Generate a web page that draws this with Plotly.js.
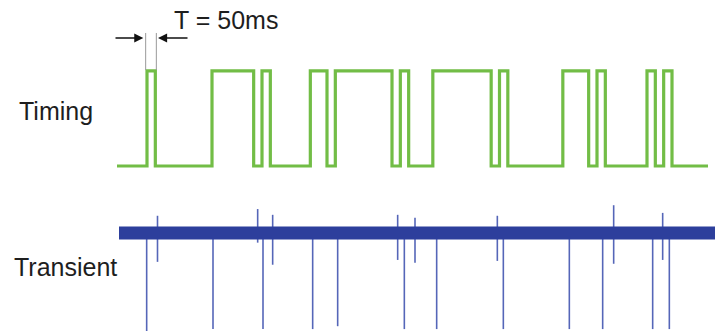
<!DOCTYPE html>
<html>
<head>
<meta charset="utf-8">
<script src="https://cdn.plot.ly/plotly-3.0.1.min.js"></script>
<style>html,body{margin:0;padding:0;background:#fff;}#chart{width:723px;height:331px;}</style>
</head>
<body>
<div id="chart"></div>
<script>
// ---- Timing signal (ms): transition instants, starts low, alternates rise/fall ----
var timingStart = -180;
var timingEnd = 3366;
var timingEdges = [0, 50, 390, 640, 690, 740, 980, 1080, 1130, 1470, 1520, 1570,
                   1715, 2065, 2115, 2165, 2495, 2650, 2700, 2750, 3000, 3050, 3100, 3150];

// ---- Transient signal baseline (ms, normalised amplitude) ----
var baseX = [-168, 58, 78, 138, 652, 672, 732, 742, 762, 822, 1096, 1116, 1176,
             1492, 1512, 1572, 1600, 1620, 1680, 2092, 2112, 2172, 2180, 2196, 2256,
             2680, 2700, 2760, 2794, 2814, 2874, 3082, 3102, 3162, 3180, 3198, 3258, 3408];
var baseY = [0, 0, 0.03, 0.008, 0.003, 0.03, 0.008, 0.008, 0.03, 0.008, 0.003, 0.03, 0.008,
             0.003, 0.03, 0.008, 0.008, 0.03, 0.008, 0.003, 0.03, 0.012, 0.012, 0.03, 0.008,
             0.003, 0.03, 0.008, 0.008, 0.03, 0.008, 0.003, 0.03, 0.008, 0.008, 0.03, 0.008, 0];

// ---- Transient spikes: position (ms), top and bottom (normalised) ----
var spikeX   = [-2, 63, 396, 664, 696, 754, 994, 1144, 1504, 1544, 1608, 1738,
                2102, 2138, 2534, 2734, 2800, 3034, 3094, 3134];
var spikeTop = [0.04, 0.18, 0.04, 0.25, 0.04, 0.19, 0.04, 0.04, 0.19, 0.04, 0.16, 0.04,
                0.18, 0.04, 0.04, 0.04, 0.29, 0.04, 0.21, 0.04];
var spikeBot = [-1.02, -0.30, -1.0, -0.1, -1.0, -0.33, -1.0, -0.97, -0.28, -1.0, -0.31, -1.0,
                -0.29, -1.0, -1.0, -1.0, -0.32, -1.0, -0.28, -1.0];

// ---- Labels ----
var rowLabels = ["Timing", "Transient"];
var periodLabel = "T = 50ms";
var periodStart = 0, periodEnd = 50;

// build timing step trace
var tx = [timingStart], ty = [0];
for (var i = 0; i < timingEdges.length; i++) {
  tx.push(timingEdges[i]);
  ty.push(i % 2 === 0 ? 1 : 0);
}
tx.push(timingEnd); ty.push(0);

// build spike trace
var sx = [], sy = [];
for (var j = 0; j < spikeX.length; j++) {
  sx.push(spikeX[j], spikeX[j], null);
  sy.push(spikeTop[j], spikeBot[j], null);
}

var traces = [
  {x: tx, y: ty, mode: 'lines', line: {shape: 'hv', color: '#72bd46', width: 3.2},
   xaxis: 'x', yaxis: 'y', hoverinfo: 'skip'},
  {x: sx, y: sy, mode: 'lines', line: {color: '#5566b8', width: 1.6},
   xaxis: 'x', yaxis: 'y2', hoverinfo: 'skip', connectgaps: false},
  {x: baseX, y: baseY, mode: 'lines', line: {color: '#2d3f9c', width: 13},
   xaxis: 'x', yaxis: 'y2', hoverinfo: 'skip'}
];

var fontTxt = {family: 'Liberation Sans, Arial, sans-serif', size: 25, color: '#1e1e1e'};
var arrowY = 1.347;

var layout = {
  width: 723, height: 331,
  margin: {l: 0, r: 0, t: 0, b: 0},
  paper_bgcolor: '#ffffff', plot_bgcolor: '#ffffff',
  showlegend: false,
  xaxis: {range: [-882, 3456], visible: false, showgrid: false, zeroline: false},
  yaxis: {range: [-1.737, 1.747], visible: false, showgrid: false, zeroline: false, domain: [0, 1]},
  yaxis2: {range: [-1.02, 2.427], visible: false, showgrid: false, zeroline: false,
           overlaying: 'y'},
  shapes: [
    {type: 'line', xref: 'x', yref: 'y', x0: periodStart - 8, x1: periodStart - 8, y0: 1.01, y1: 1.40,
     line: {color: '#999999', width: 1}},
    {type: 'line', xref: 'x', yref: 'y', x0: periodEnd + 6, x1: periodEnd + 6, y0: 1.01, y1: 1.40,
     line: {color: '#999999', width: 1}}
  ],
  annotations: [
    {xref: 'paper', yref: 'paper', x: 17 / 723, y: 1 - 111 / 331, xanchor: 'left', yanchor: 'middle',
     text: rowLabels[0], showarrow: false, font: fontTxt},
    {xref: 'paper', yref: 'paper', x: 12 / 723, y: 1 - 266.5 / 331, xanchor: 'left', yanchor: 'middle',
     text: rowLabels[1], showarrow: false, font: fontTxt},
    {xref: 'paper', yref: 'paper', x: 172 / 723, y: 1 - 20 / 331, xanchor: 'left', yanchor: 'middle',
     text: periodLabel, showarrow: false, font: fontTxt},
    {xref: 'x', yref: 'y', axref: 'x', ayref: 'y', x: periodStart - 22, y: arrowY, ax: -198, ay: arrowY,
     text: '', showarrow: true, arrowhead: 2, arrowsize: 1.4, arrowwidth: 1.3, arrowcolor: '#111111'},
    {xref: 'x', yref: 'y', axref: 'x', ayref: 'y', x: periodEnd + 16, y: arrowY, ax: 252, ay: arrowY,
     text: '', showarrow: true, arrowhead: 2, arrowsize: 1.4, arrowwidth: 1.3, arrowcolor: '#111111'}
  ]
};

Plotly.newPlot('chart', traces, layout, {staticPlot: true, displayModeBar: false});
</script>
</body>
</html>
